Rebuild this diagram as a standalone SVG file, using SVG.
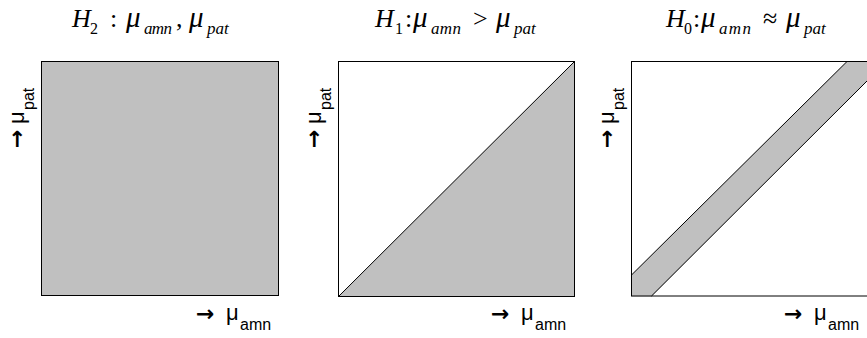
<svg xmlns="http://www.w3.org/2000/svg" width="867" height="338" viewBox="0 0 867 338">
<style>
.frame{fill:none;stroke:#000;stroke-width:1}
.shade{fill:#c0c0c0}
.ttl{font-family:"Liberation Serif",serif;font-size:26px;fill:#000}
.it{font-style:italic}
.mu{font-size:29px;font-style:italic}
.sub{font-size:17px;font-style:italic}
.subn{font-size:16px}
.ax{font-family:"Liberation Sans",sans-serif;font-size:22px;fill:#000}
.arr{font-family:"DejaVu Sans",sans-serif;font-size:22px;font-weight:bold}
.axs{font-size:16px}
</style>
<rect width="867" height="338" fill="#fff"/>
<g id="panel-h2">
<text class="ttl"><tspan class="it" x="72" y="27">H</tspan><tspan class="subn" x="90" y="34">2</tspan><tspan x="110" y="27">:</tspan><tspan class="mu" x="126" y="27">μ</tspan><tspan class="sub" x="144" y="34" textLength="28">amn</tspan><tspan x="176" y="27">,</tspan><tspan class="mu" x="189" y="27">μ</tspan><tspan class="sub" x="207" y="34">pat</tspan></text>
<rect class="shade" x="41.5" y="61.5" width="237" height="234"/>
<rect class="frame" x="41.5" y="61.5" width="237" height="234"/>
<text class="ax"><tspan class="arr" x="196" y="321">→</tspan><tspan x="226" y="320">μ</tspan><tspan class="axs" x="240" y="330">amn</tspan></text>
<text class="ax" transform="translate(24,148) rotate(-90)"><tspan class="arr" x="0" y="0">→</tspan><tspan x="24" y="0">μ</tspan><tspan class="axs" x="38" y="10">pat</tspan></text>
</g>
<g id="panel-h1">
<text class="ttl"><tspan class="it" x="375" y="27">H</tspan><tspan class="subn" x="395" y="34">1</tspan><tspan x="405" y="27">:</tspan><tspan class="mu" x="413" y="27">μ</tspan><tspan class="sub" x="431" y="34" textLength="30">amn</tspan><tspan x="473" y="27">&gt;</tspan><tspan class="mu" x="496" y="27">μ</tspan><tspan class="sub" x="514" y="34">pat</tspan></text>
<polygon class="shade" points="338.5,296.5 574.5,61.5 574.5,296.5"/>
<rect class="frame" x="338.5" y="61.5" width="236" height="235"/>
<line x1="338.5" y1="296.5" x2="574.5" y2="61.5" stroke="#000" stroke-width="1"/>
<text class="ax"><tspan class="arr" x="491" y="321">→</tspan><tspan x="521" y="320">μ</tspan><tspan class="axs" x="535" y="330">amn</tspan></text>
<text class="ax" transform="translate(321,148) rotate(-90)"><tspan class="arr" x="0" y="0">→</tspan><tspan x="24" y="0">μ</tspan><tspan class="axs" x="38" y="10">pat</tspan></text>
</g>
<g id="panel-h0">
<text class="ttl"><tspan class="it" x="666" y="27">H</tspan><tspan class="subn" x="684" y="34">0</tspan><tspan x="693" y="27">:</tspan><tspan class="mu" x="701" y="27">μ</tspan><tspan class="sub" x="719" y="34" textLength="32">amn</tspan><tspan x="763" y="27">≈</tspan><tspan class="mu" x="786" y="27">μ</tspan><tspan class="sub" x="804" y="34">pat</tspan></text>
<polygon class="shade" points="631.5,296.5 651.5,296.5 867,81 867,61.5 847,61.5 631.5,275"/>
<rect class="frame" x="631.5" y="61.5" width="240" height="234.5"/>
<line x1="631.5" y1="275" x2="847" y2="61.5" stroke="#000" stroke-width="1"/>
<line x1="651.5" y1="296" x2="867" y2="81" stroke="#000" stroke-width="1"/>
<text class="ax"><tspan class="arr" x="784" y="321">→</tspan><tspan x="814" y="320">μ</tspan><tspan class="axs" x="828" y="330">amn</tspan></text>
<text class="ax" transform="translate(614,148) rotate(-90)"><tspan class="arr" x="0" y="0">→</tspan><tspan x="24" y="0">μ</tspan><tspan class="axs" x="38" y="10">pat</tspan></text>
</g>
<g id="connectors"/>
</svg>
